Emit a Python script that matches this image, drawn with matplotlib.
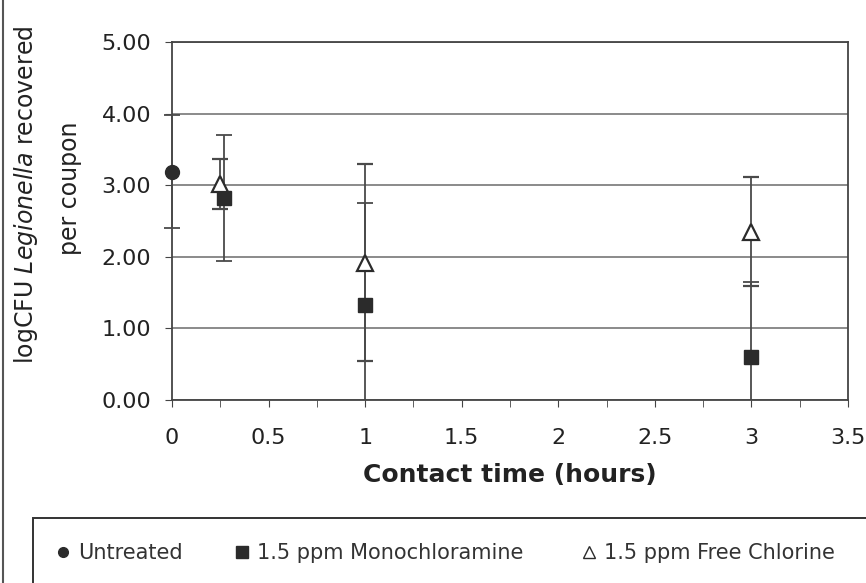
import numpy as np
import matplotlib
matplotlib.use("Agg")
import matplotlib.pyplot as plt
from matplotlib.patches import Rectangle
from matplotlib.lines import Line2D

# values
untreated_x = [0.0]
untreated_y = [3.19]
untreated_err = [0.79]

mono_x = [0.27, 1.0, 3.0]
mono_y = [2.82, 1.33, 0.60]
mono_err = [0.88, 1.42, 1.05]

free_x = [0.25, 1.0, 3.0]
free_y = [3.02, 1.92, 2.35]
free_err = [0.35, 1.38, 0.76]

labels = ["Untreated", "1.5 ppm Monochloramine", "1.5 ppm Free Chlorine"]
xticks = np.arange(0, 3.51, 0.5)
xtick_labels = ["0", "0.5", "1", "1.5", "2", "2.5", "3", "3.5"]
yticks = np.arange(0, 5.01, 1.0)

plt.rcParams["font.family"] = ["DejaVu Sans"]
dark = "#2b2b2b"

fig = plt.figure(figsize=(8.66, 5.83), dpi=100)
ax = fig.add_axes([172 / 866, 1 - 400 / 583, (848 - 172) / 866, (400 - 42) / 583])

ekw = dict(ecolor="#4a4a4a", elinewidth=1.3, capsize=6, capthick=1.3, linestyle="none")
ax.errorbar(untreated_x, untreated_y, yerr=untreated_err, marker="o", ms=10,
            mfc=dark, mec=dark, clip_on=False, zorder=5, **ekw)
ax.errorbar(mono_x, mono_y, yerr=mono_err, marker="s", ms=10,
            mfc=dark, mec=dark, **ekw)
ax.errorbar(free_x, free_y, yerr=free_err, marker="^", ms=11,
            mfc="white", mec=dark, mew=1.6, **ekw)

ax.set_xlim(0, 3.5)
ax.set_ylim(0, 5)
ax.set_xticks(xticks)
ax.set_xticklabels(xtick_labels)
ax.set_xticks(np.arange(0.25, 3.5, 0.5), minor=True)
ax.set_yticks(yticks)
ax.set_yticklabels([f"{v:.2f}" for v in yticks])
ax.tick_params(axis="both", which="both", direction="out", length=5,
               color="#444444", labelsize=16, labelcolor="#222222")
ax.tick_params(axis="x", pad=15)
ax.tick_params(axis="y", pad=10)
ax.grid(axis="y", color="#777777", linewidth=1.2)
ax.set_axisbelow(True)
for s in ax.spines.values():
    s.set_color("#444444")
    s.set_linewidth(1.3)

ax.set_xlabel("Contact time (hours)", fontsize=18, fontweight="bold",
              color="#222222", labelpad=11)

fig.text(26 / 866, 1 - 195 / 583, r"logCFU $\it{Legionella}$ recovered",
         rotation=90, ha="center", va="center", fontsize=17, color="#222222")
fig.text(70 / 866, 1 - 188 / 583, "per coupon", rotation=90,
         ha="center", va="center", fontsize=17, color="#222222")

# legend box below the plot
fig.patches.append(Rectangle((33 / 866, -0.01), 0.99, (583 - 518) / 583 + 0.01,
                             transform=fig.transFigure, fill=False,
                             edgecolor="#333333", linewidth=1.4))
fig.add_artist(Line2D([3 / 866, 3 / 866], [0, 1], transform=fig.transFigure,
                      color="#555555", linewidth=1.5))

handles = [
    Line2D([], [], marker="o", ms=7, color=dark, linestyle="none"),
    Line2D([], [], marker="s", ms=8, color=dark, linestyle="none"),
    Line2D([], [], marker="^", ms=9, mfc="white", mec=dark, linestyle="none"),
]
entry_left = [57, 236, 583]
for h, lab, x0 in zip(handles, labels, entry_left):
    fig.legend([h], [lab], loc="center left", bbox_to_anchor=(x0 / 866, 1 - 553 / 583),
               frameon=False, handlelength=0.6, handletextpad=0.4,
               borderpad=0, borderaxespad=0, labelcolor="#333333",
               prop={"family": "DejaVu Sans", "size": 15})

fig.savefig("out.png", dpi=100)
